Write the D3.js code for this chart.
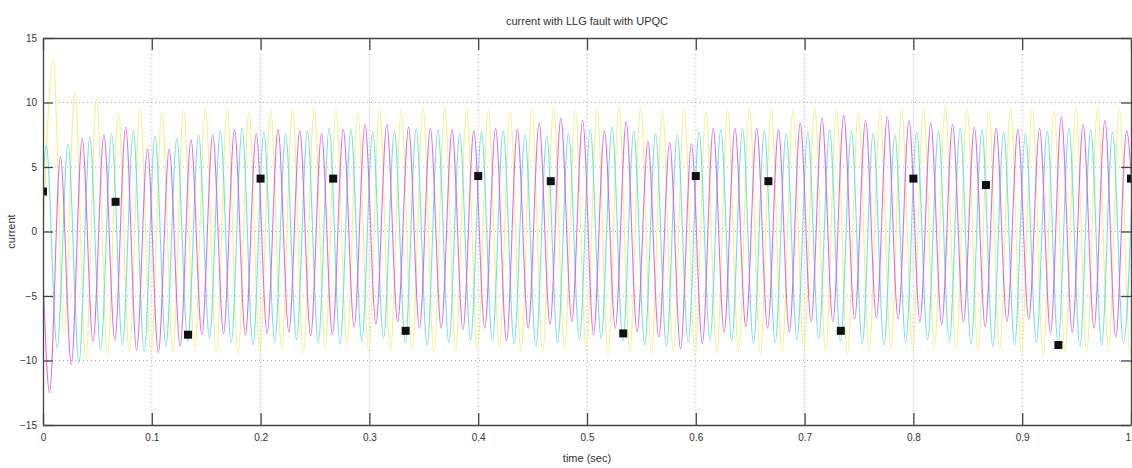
<!DOCTYPE html>
<html>
<head>
<meta charset="utf-8">
<script src="https://cdn.jsdelivr.net/npm/d3@7"></script>
<style>
  body { margin: 0; background: #fff; }
  text { font-family: "Liberation Sans", Arial, sans-serif; fill: #333; }
</style>
</head>
<body>
<div id="container"></div>
<script>
/* CONSTANTS AND GLOBALS */
const width = 1132;
const height = 468;
const margin = { top: 38, right: 1, bottom: 43, left: 43 };

/* DATA */
const xTicks = [0, 0.1, 0.2, 0.3, 0.4, 0.5, 0.6, 0.7, 0.8, 0.9, 1];
const yTicks = [-15, -10, -5, 0, 5, 10, 15];
const period = 0.02; // 50 Hz

// value of each phase at t = 0
const startValues = { magenta: -3.3, cyan: 3.9, yellow: -0.6 };
// time of the first peak / first trough of each phase
const firstPeak = { magenta: 0.016, cyan: 0.003, yellow: 0.0093 };
const firstTrough = { magenta: 0.006, cyan: 0.013, yellow: 0.0193 };

const magentaPeaks = [5.8, 7.2, 7.5, 8.1, 6.4, 6.4, 7.1, 7.5, 7.9, 7.6,
  7.9, 7.8, 7.6, 7.9, 8.3, 8.3, 8.1, 8.0, 7.9, 7.8,
  8.0, 7.9, 8.4, 8.8, 8.6, 7.8, 8.5, 7.0, 6.9, 6.8,
  8.0, 8.0, 8.0, 7.9, 8.4, 8.8, 9.0, 8.6, 8.9, 8.6,
  8.4, 8.3, 8.1, 8.0, 7.9, 8.0, 8.9, 8.3, 8.6, 7.8];
const magentaTroughs = [-12.5, -10.3, -8.5, -8.4, -9.2, -9.4, -8.9, -8.0, -7.9, -8.0,
  -7.9, -7.8, -8.1, -8.0, -7.4, -7.2, -7.0, -7.5, -7.5, -7.6,
  -7.5, -8.5, -7.5, -7.2, -7.0, -8.0, -7.5, -7.8, -8.2, -9.1,
  -8.7, -7.8, -7.4, -7.5, -7.8, -7.0, -7.0, -6.8, -6.7, -6.8,
  -7.0, -7.2, -7.0, -7.4, -7.0, -6.8, -7.9, -7.8, -7.5, -8.2, -8.0];

const cyanPeaks = [6.7, 6.8, 7.3, 7.6, 7.8, 7.4, 7.2, 7.5, 7.8, 8.0,
  7.7, 7.6, 7.8, 8.0, 7.9, 7.7, 7.8, 8.0, 7.9, 7.6,
  7.7, 7.8, 7.5, 7.4, 7.6, 7.9, 8.1, 7.8, 7.6, 7.5,
  7.7, 7.9, 8.0, 7.8, 7.6, 7.7, 7.9, 7.8, 7.6, 7.5,
  7.7, 7.8, 8.0, 7.9, 7.7, 7.6, 7.8, 8.0, 7.9, 7.7, 7.8];
const cyanTroughs = [-9.0, -10.2, -9.2, -8.8, -9.3, -8.9, -8.5, -8.3, -8.6, -8.8,
  -8.5, -8.4, -8.6, -8.7, -8.5, -8.3, -8.6, -8.8, -8.6, -8.4,
  -8.5, -8.7, -8.9, -8.6, -8.4, -8.3, -8.5, -8.8, -8.9, -8.6,
  -8.4, -8.5, -8.7, -8.6, -8.4, -8.3, -8.5, -8.7, -8.8, -8.6,
  -8.4, -8.5, -8.7, -8.9, -8.8, -8.6, -8.7, -8.9, -8.8, -8.6];

const yellowPeaks = [13.3, 10.9, 10.3, 9.3, 9.5, 9.3, 9.4, 9.6, 9.5, 9.3,
  9.4, 9.5, 9.6, 9.4, 9.3, 9.5, 9.4, 9.6, 9.7, 9.5,
  9.4, 9.3, 9.5, 9.6, 9.4, 9.5, 9.7, 9.6, 9.4, 9.5,
  9.3, 9.4, 9.6, 9.5, 9.4, 9.6, 9.5, 9.3, 9.4, 9.5,
  9.6, 9.7, 9.5, 9.4, 9.6, 9.5, 9.4, 9.6, 9.7, 9.5, 9.4];
const yellowTroughs = [-8.0, -10.0, -9.6, -9.4, -9.5, -9.3, -9.2, -9.4, -9.5, -9.3,
  -9.2, -9.4, -9.0, -8.8, -9.2, -9.3, -9.1, -9.4, -9.3, -9.2,
  -9.0, -9.3, -9.4, -9.1, -9.2, -9.5, -9.3, -9.4, -9.3, -9.6,
  -9.4, -9.3, -9.5, -9.3, -9.2, -9.4, -9.5, -9.3, -9.1, -9.2,
  -9.0, -9.1, -9.3, -9.2, -9.4, -9.6, -9.3, -9.4, -9.2, -9.5];

// black square markers
const markerTimes = [0, 0.0667, 0.1333, 0.2, 0.2667, 0.3333, 0.4, 0.4667,
  0.5333, 0.6, 0.6667, 0.7333, 0.8, 0.8667, 0.9333, 1.0];
const markerValues = [3.1, 2.3, -8.0, 4.1, 4.1, -7.7, 4.3, 3.9,
  -7.9, 4.3, 3.9, -7.7, 4.1, 3.6, -8.8, 4.1];

/* BUILD SERIES */
function buildSeries(name, peaks, troughs) {
  const pts = [{ t: 0, v: startValues[name] }];
  peaks.forEach((v, i) => pts.push({ t: firstPeak[name] + i * period, v }));
  troughs.forEach((v, i) => pts.push({ t: firstTrough[name] + i * period, v }));
  return pts.sort((a, b) => a.t - b.t);
}

const series = [
  { name: "yellow", color: "#eeee78", data: buildSeries("yellow", yellowPeaks, yellowTroughs) },
  { name: "cyan", color: "#5cdcdc", data: buildSeries("cyan", cyanPeaks, cyanTroughs) },
  { name: "magenta", color: "#d955d9", data: buildSeries("magenta", magentaPeaks, magentaTroughs) }
];

/* SCALES */
const svg = d3.select("#container")
  .append("svg")
  .attr("width", width)
  .attr("height", height);

const xScale = d3.scaleLinear()
  .domain([0, 1])
  .range([margin.left, width - margin.right]);

const yScale = d3.scaleLinear()
  .domain([-15, 15])
  .range([height - margin.bottom, margin.top]);

// grid
svg.append("g")
  .selectAll("line.vgrid")
  .data(xTicks.slice(1, -1))
  .join("line")
  .attr("x1", d => xScale(d)).attr("x2", d => xScale(d))
  .attr("y1", yScale(15)).attr("y2", yScale(-15))
  .attr("stroke", "#999")
  .attr("stroke-width", 0.8)
  .attr("stroke-dasharray", "1,3");

svg.append("g")
  .selectAll("line.hgrid")
  .data(yTicks.slice(1, -1))
  .join("line")
  .attr("x1", xScale(0)).attr("x2", xScale(1))
  .attr("y1", d => yScale(d)).attr("y2", d => yScale(d))
  .attr("stroke", "#999")
  .attr("stroke-width", 0.8)
  .attr("stroke-dasharray", "1,3");

// clip
svg.append("clipPath")
  .attr("id", "plotClip")
  .append("rect")
  .attr("x", xScale(0)).attr("y", yScale(15))
  .attr("width", xScale(1) - xScale(0))
  .attr("height", yScale(-15) - yScale(15));

const line = d3.line()
  .x(d => xScale(d.t))
  .y(d => yScale(d.v))
  .curve(d3.curveMonotoneX);

svg.append("g")
  .attr("clip-path", "url(#plotClip)")
  .selectAll("path")
  .data(series)
  .join("path")
  .attr("d", d => line(d.data))
  .attr("fill", "none")
  .attr("stroke", d => d.color)
  .attr("stroke-width", 1.1)
  .attr("stroke-opacity", 0.85);

// markers
const sq = 8;
svg.append("g")
  .attr("clip-path", "url(#plotClip)")
  .selectAll("rect")
  .data(markerTimes)
  .join("rect")
  .attr("x", (d, i) => xScale(d) - sq / 2)
  .attr("y", (d, i) => yScale(markerValues[i]) - sq / 2)
  .attr("width", sq)
  .attr("height", sq)
  .attr("fill", "#111");

/* AXES */
const xAxis = d3.axisBottom(xScale)
  .tickValues(xTicks)
  .tickFormat(d => d === 0 || d === 1 ? d : d3.format(".1f")(d))
  .tickSizeInner(-12)
  .tickSizeOuter(0)
  .tickPadding(9);
const xAxisG = svg.append("g")
  .attr("transform", `translate(0, ${yScale(-15)})`)
  .call(xAxis);
xAxisG.selectAll(".tick text")
  .filter(d => d === 1)
  .attr("text-anchor", "end")
  .attr("dx", "-0.05em");

const xAxisTop = d3.axisTop(xScale)
  .tickValues(xTicks)
  .tickFormat("")
  .tickSizeInner(-12)
  .tickSizeOuter(0);
svg.append("g")
  .attr("transform", `translate(0, ${yScale(15)})`)
  .call(xAxisTop);

const yAxis = d3.axisLeft(yScale)
  .tickValues(yTicks)
  .tickSizeInner(-10)
  .tickSizeOuter(0)
  .tickPadding(6);
svg.append("g")
  .attr("transform", `translate(${xScale(0)}, 0)`)
  .call(yAxis);

const yAxisRight = d3.axisRight(yScale)
  .tickValues(yTicks)
  .tickFormat("")
  .tickSizeInner(-10)
  .tickSizeOuter(0);
svg.append("g")
  .attr("transform", `translate(${xScale(1)}, 0)`)
  .call(yAxisRight);

svg.selectAll(".domain, .tick line")
  .attr("stroke", "#444")
  .attr("stroke-width", 1.3);
svg.selectAll(".tick text")
  .style("font-size", "10px")
  .attr("fill", "#444");

/* LABELS */
svg.append("text")
  .attr("x", (xScale(0) + xScale(1)) / 2)
  .attr("y", 25)
  .attr("text-anchor", "middle")
  .style("font-size", "11px")
  .text("current with LLG fault with UPQC");

svg.append("text")
  .attr("x", (xScale(0) + xScale(1)) / 2)
  .attr("y", 462)
  .attr("text-anchor", "middle")
  .style("font-size", "11px")
  .text("time (sec)");

svg.append("text")
  .attr("transform", `translate(15, ${yScale(0)}) rotate(-90)`)
  .attr("text-anchor", "middle")
  .style("font-size", "11px")
  .text("current");
</script>
</body>
</html>
